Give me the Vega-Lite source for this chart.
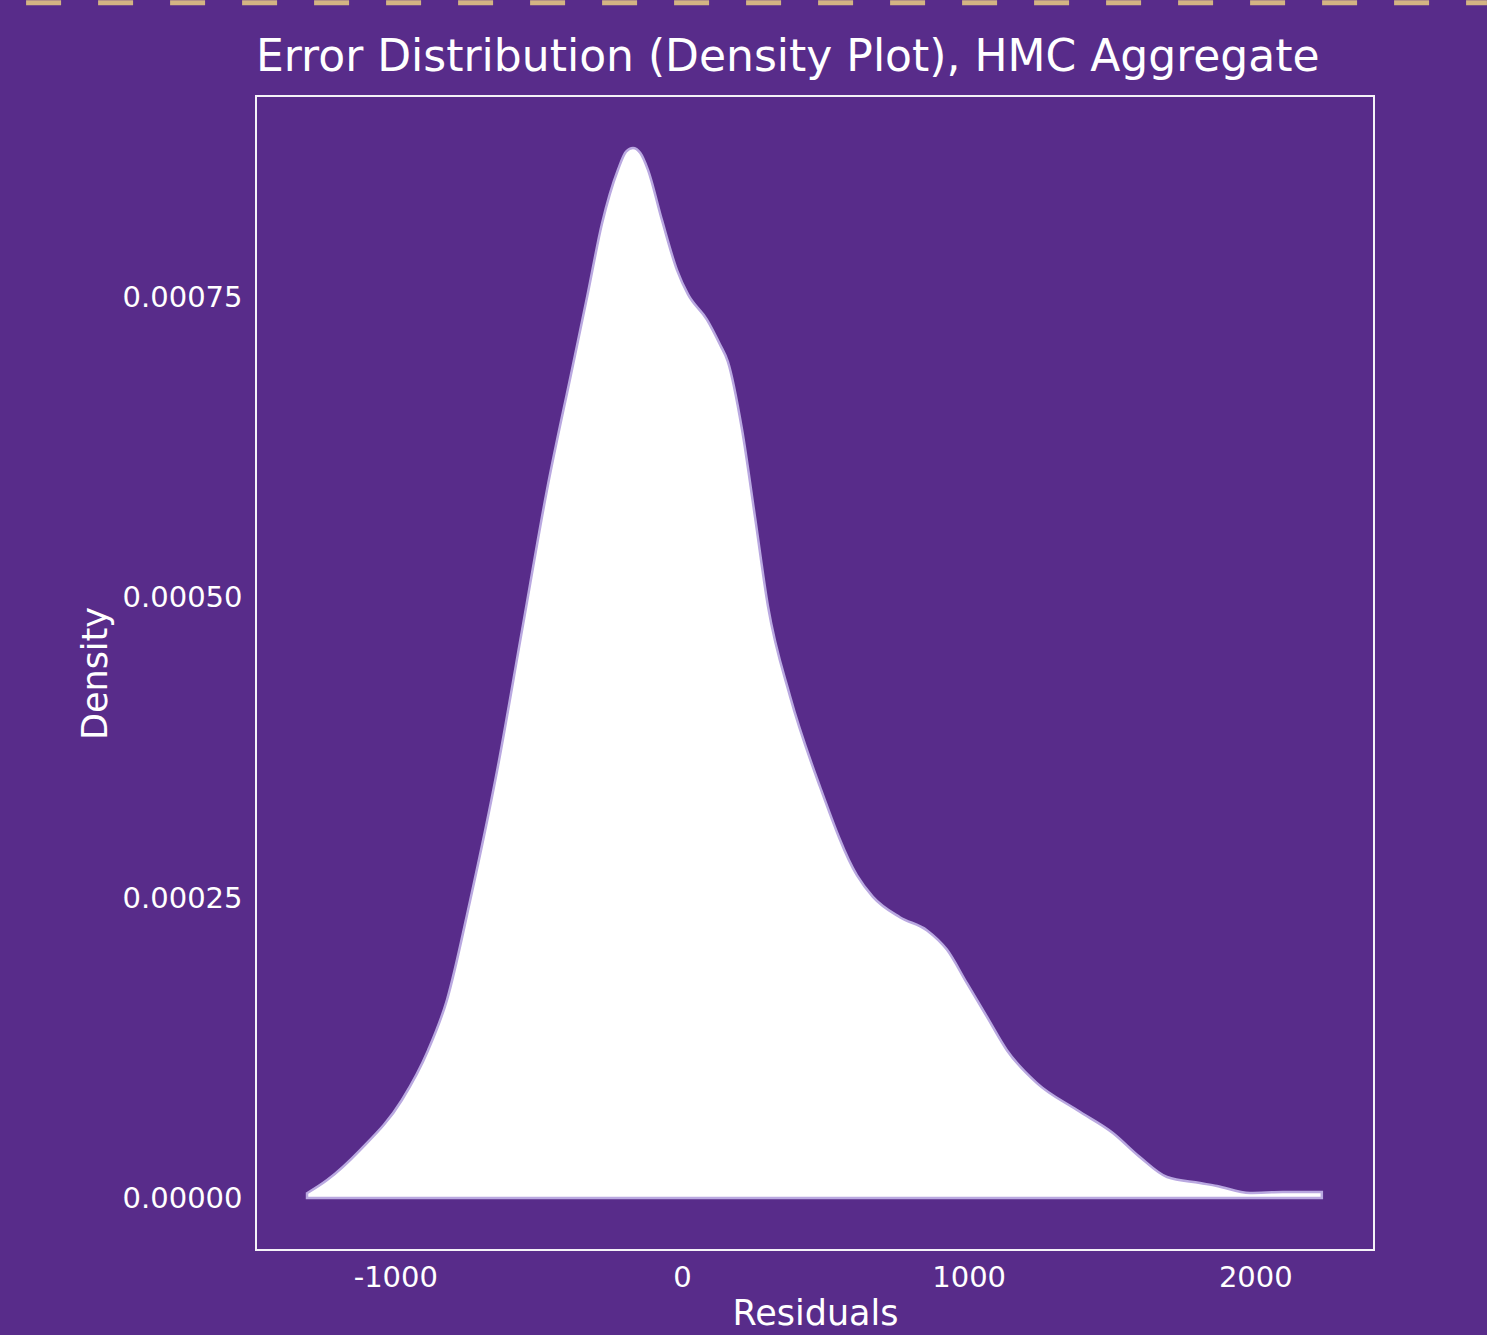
{
  "$schema": "https://vega.github.io/schema/vega-lite/v6.json",
  "width": 1118,
  "height": 1154,
  "autosize": {"type": "none"},
  "padding": {"left": 256, "top": 96, "right": 113, "bottom": 85},
  "background": "#582C8A",
  "title": {
    "text": "Error Distribution (Density Plot), HMC Aggregate",
    "anchor": "start",
    "frame": "group",
    "fontSize": 44,
    "font": "DejaVu Sans",
    "fontWeight": "normal",
    "color": "#FFFFFF",
    "baseline": "alphabetic",
    "offset": -115
  },
  "config": {
    "view": {"stroke": "#F4F2F8", "strokeWidth": 2},
    "axis": {
      "domain": false,
      "ticks": false,
      "grid": false,
      "labelFont": "DejaVu Sans",
      "labelFontSize": 29,
      "labelColor": "#FFFFFF",
      "titleFont": "DejaVu Sans",
      "titleFontSize": 35,
      "titleFontWeight": "normal",
      "titleColor": "#FFFFFF"
    }
  },
  "layer": [
    {
      "data": {
        "values": [
          {"residual": -1308, "density": 0.000004},
          {"residual": -1238, "density": 0.000015},
          {"residual": -1123, "density": 0.00004},
          {"residual": -977, "density": 0.0000817},
          {"residual": -886, "density": 0.000123},
          {"residual": -820, "density": 0.000165},
          {"residual": -739, "density": 0.000248},
          {"residual": -645, "density": 0.000356},
          {"residual": -558, "density": 0.000473},
          {"residual": -471, "density": 0.00059},
          {"residual": -384, "density": 0.00069},
          {"residual": -330, "density": 0.000752},
          {"residual": -279, "density": 0.000812},
          {"residual": -223, "density": 0.000857},
          {"residual": -195, "density": 0.000872},
          {"residual": -171, "density": 0.000875},
          {"residual": -146, "density": 0.000871},
          {"residual": -119, "density": 0.000857},
          {"residual": -70, "density": 0.000815},
          {"residual": -17, "density": 0.000773},
          {"residual": 21, "density": 0.000753},
          {"residual": 87, "density": 0.000732},
          {"residual": 133, "density": 0.000711},
          {"residual": 160, "density": 0.000697},
          {"residual": 209, "density": 0.000641},
          {"residual": 255, "density": 0.000567},
          {"residual": 300, "density": 0.000493},
          {"residual": 377, "density": 0.000418},
          {"residual": 481, "density": 0.000343},
          {"residual": 610, "density": 0.000269},
          {"residual": 666, "density": 0.000251},
          {"residual": 760, "density": 0.000234},
          {"residual": 855, "density": 0.000223},
          {"residual": 924, "density": 0.000207},
          {"residual": 994, "density": 0.000179},
          {"residual": 1064, "density": 0.000151},
          {"residual": 1134, "density": 0.000123},
          {"residual": 1238, "density": 0.0000958},
          {"residual": 1378, "density": 0.0000733},
          {"residual": 1503, "density": 0.0000542},
          {"residual": 1597, "density": 0.0000342},
          {"residual": 1692, "density": 0.0000175},
          {"residual": 1807, "density": 0.0000125},
          {"residual": 1866, "density": 0.00001},
          {"residual": 1981, "density": 0.0000042},
          {"residual": 2096, "density": 0.000005},
          {"residual": 2232, "density": 0.000005}
        ]
      },
      "mark": {
        "type": "area",
        "fill": "#FFFFFF",
        "stroke": "#B9A8E0",
        "strokeWidth": 2.5,
        "interpolate": "monotone"
      },
      "encoding": {
        "x": {
          "field": "residual",
          "type": "quantitative",
          "scale": {"domain": [-1486, 2414], "nice": false, "zero": false},
          "axis": {
            "title": "Residuals",
            "values": [-1000, 0, 1000, 2000],
            "labelExpr": "'' + datum.value",
            "labelPadding": 13,
            "titlePadding": 4
          }
        },
        "y": {
          "field": "density",
          "type": "quantitative",
          "scale": {"domain": [-0.0000433, 0.0009183], "nice": false, "zero": false},
          "axis": {
            "title": "Density",
            "values": [0, 0.00025, 0.0005, 0.00075],
            "format": ".5f",
            "labelPadding": 14,
            "titlePadding": 9
          }
        }
      }
    },
    {
      "data": {"values": [{}]},
      "mark": {"type": "rule", "stroke": "#D4B483", "strokeWidth": 5, "strokeDash": [35, 37], "clip": false},
      "encoding": {
        "x": {"datum": -2288},
        "x2": {"datum": 2808},
        "y": {"datum": 0.000996}
      }
    }
  ]
}
